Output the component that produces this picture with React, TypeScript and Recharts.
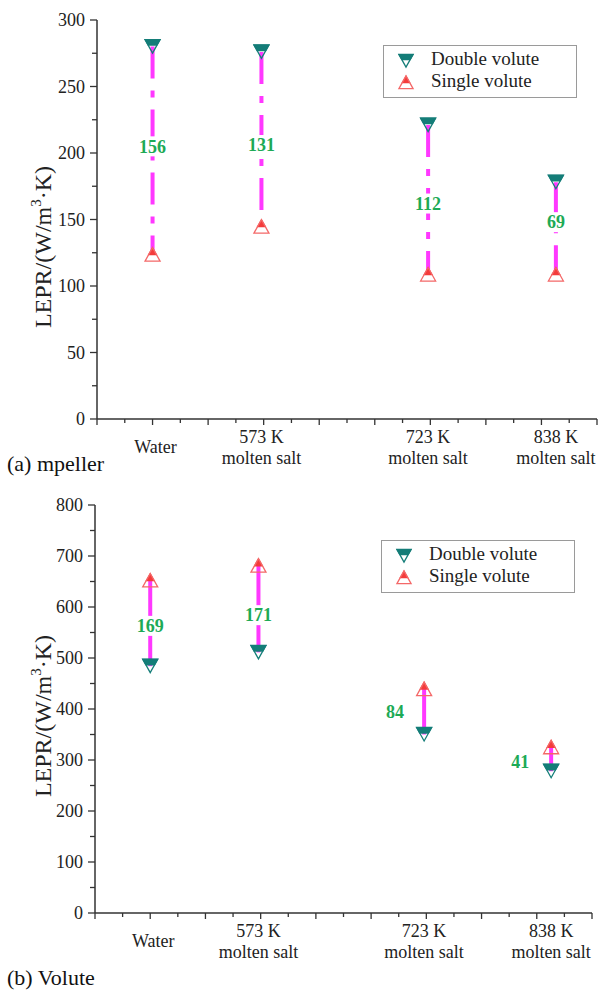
import { ScatterChart, Scatter, XAxis, YAxis, Legend } from "recharts"

// categories on a temperature-like x axis
const categories = ["Water", "573 K", "723 K", "838 K"]
const categorySub = ["", "molten salt", "molten salt", "molten salt"]
const categoryX = [475, 573, 723, 838]
const xTicks = [425, 450, 500, 525, 550, 575, 600, 625, 650, 675, 700, 725, 750, 775, 800, 825, 850, 875]

// (a) impeller
const impellerDouble = [280, 276, 221, 178]
const impellerSingle = [124, 145, 109, 109]
const impellerDiff = [156, 131, 112, 69]
const impellerLabelY = [205, 206, 162, 148]
const impellerYTicks = [0, 25, 50, 75, 100, 125, 150, 175, 200, 225, 250, 275, 300]

// (b) volute
const voluteDouble = [484, 511, 350, 278]
const voluteSingle = [653, 682, 440, 326]
const voluteDiff = [169, 171, 84, 41]
const voluteLabelY = [563, 584, 394, 296]
const voluteYTicks = [0, 50, 100, 150, 200, 250, 300, 350, 400, 450, 500, 550, 600, 650, 700, 750, 800]

const FONT = "'Times New Roman', 'Liberation Serif', Times, serif"
const AXIS = "#333333"
const TEXT = "#222222"
const TEAL = "#147d78"
const RED = "#f43b3b"
const RED_LINE = "#f46868"
const MAGENTA = "#ff38ff"
const GREEN = "#1daa56"

const W = 17
const H = 15

function DownTri({ cx, cy, k = 1 }: any) {
  const w = W * k
  const h = H * k
  const f = 0.45
  const top = cy - h / 2
  const fillY = top + f * h
  const inner = (w / 2) * (1 - f)
  return (
    <g>
      <polygon
        points={`${cx - w / 2},${top} ${cx + w / 2},${top} ${cx + inner},${fillY} ${cx - inner},${fillY}`}
        fill={TEAL}
      />
      <polygon
        points={`${cx - w / 2 + 1},${top + 0.5} ${cx + w / 2 - 1},${top + 0.5} ${cx},${cy + h / 2 - 1}`}
        fill="none"
        stroke={TEAL}
        strokeWidth={1.3}
      />
    </g>
  )
}

function UpTri({ cx, cy, k = 1 }: any) {
  const w = W * k
  const h = H * k
  const f = 0.58
  const top = cy - h / 2
  const fillY = top + f * h
  const half = (w / 2) * f
  return (
    <g>
      <polygon points={`${cx},${top} ${cx + half},${fillY} ${cx - half},${fillY}`} fill={RED} />
      <polygon
        points={`${cx},${top + 1} ${cx + w / 2 - 1},${cy + h / 2 - 0.5} ${cx - w / 2 + 1},${cy + h / 2 - 0.5}`}
        fill="none"
        stroke={RED_LINE}
        strokeWidth={1.3}
      />
    </g>
  )
}

function XTick({ x, y, payload }: any) {
  const v = payload.value
  const idx = categoryX.indexOf(v)
  const major = (v - 475) % 50 === 0
  const mark = <line x1={x} x2={x} y1={y} y2={y + (major ? 6 : 4)} stroke={AXIS} strokeWidth={1.3} />
  if (idx < 0) return mark
  if (categorySub[idx] === "") {
    return (
      <g>
        {major && mark}
        <text x={x + 3} y={y + 34} textAnchor="middle" fontFamily={FONT} fontSize={18} fill={TEXT}>
          {categories[idx]}
        </text>
      </g>
    )
  }
  return (
    <text textAnchor="middle" fontFamily={FONT} fontSize={18} fill={TEXT}>
      <tspan x={x} y={y + 24}>{categories[idx]}</tspan>
      <tspan x={x} y={y + 45}>{categorySub[idx]}</tspan>
    </text>
  )
}

function makeYTick(step: number) {
  return function YTick({ x, y, payload }: any) {
    const v = payload.value
    const major = v % step === 0
    return (
      <g>
        <line x1={x} x2={x - (major ? 7 : 5)} y1={y} y2={y} stroke={AXIS} strokeWidth={1.3} />
        {major && (
          <text x={x - 12} y={y} dy="0.35em" textAnchor="end" fontFamily={FONT} fontSize={18} fill={TEXT}>
            {v}
          </text>
        )}
      </g>
    )
  }
}

function yTitle(cx: number, cy: number) {
  return () => (
    <text
      x={cx}
      y={cy}
      transform={`rotate(-90, ${cx}, ${cy})`}
      textAnchor="middle"
      dy="0.35em"
      fontFamily={FONT}
      fontSize={24}
      fill={TEXT}
    >
      LEPR/(W/m
      <tspan dy={-10} fontSize={15}>3</tspan>
      <tspan dy={10}>·K)</tspan>
    </text>
  )
}

function LegendBox() {
  return (
    <div
      style={{
        border: "1px solid #9a9a9a",
        width: 194,
        height: 53,
        boxSizing: "border-box",
        background: "#fff",
        fontFamily: FONT,
        fontSize: 19,
        color: TEXT,
        position: "relative",
      }}
    >
      <svg width={40} height={52} style={{ position: "absolute", left: 0, top: 0 }}>
        <DownTri cx={22} cy={15} k={0.95} />
        <UpTri cx={22} cy={36} k={0.95} />
      </svg>
      <div style={{ position: "absolute", left: 47, top: 2, lineHeight: "22px", whiteSpace: "nowrap" }}>
        Double volute
        <br />
        Single volute
      </div>
    </div>
  )
}

function DiffLabel({ cx, cy, payload }: any) {
  const dx = payload.dx
  const str = String(payload.d)
  const w = str.length * 9 + 6
  return (
    <g>
      {dx === 0 && <rect x={cx - w / 2} y={cy - 10} width={w} height={20} fill="#fff" />}
      <text
        x={cx + dx}
        y={cy}
        dy="0.35em"
        textAnchor="middle"
        fontFamily={FONT}
        fontWeight="bold"
        fontSize={18}
        fill={GREEN}
      >
        {str}
      </text>
    </g>
  )
}

function Panel({
  double,
  single,
  diff,
  labelY,
  labelDx,
  yTicks,
  yMax,
  step,
  yAxisWidth,
  right,
  height,
  dash,
  titleY,
  legendTop,
  legendLeft,
}: any) {
  const spans = categoryX.map((x, i) => [
    { x, y: double[i] },
    { x, y: single[i] },
  ])
  const labels = categoryX.map((x, i) => ({ x, y: labelY[i], d: diff[i], dx: labelDx[i] }))
  const doubleData = categoryX.map((x, i) => ({ x, y: double[i] }))
  const singleData = categoryX.map((x, i) => ({ x, y: single[i] }))
  return (
    <ScatterChart width={607} height={height} margin={{ top: 20, right, bottom: 0, left: 0 }}>
      <XAxis
        type="number"
        dataKey="x"
        domain={[425, 875]}
        ticks={[...xTicks, ...categoryX].sort((a, b) => a - b)}
        interval={0}
        tickLine={false}
        tickSize={0}
        tickMargin={0}
        tick={<XTick />}
        height={50}
        axisLine={{ stroke: AXIS, strokeWidth: 1.5 }}
        allowDataOverflow
      />
      <YAxis
        type="number"
        dataKey="y"
        domain={[0, yMax]}
        ticks={yTicks}
        interval={0}
        tickLine={false}
        tickSize={0}
        tickMargin={0}
        tick={makeYTick(step)}
        width={yAxisWidth}
        axisLine={{ stroke: AXIS, strokeWidth: 1.5 }}
        label={yTitle(43, titleY)}
        allowDataOverflow
      />
      <Legend
        layout="vertical"
        align="center"
        verticalAlign="middle"
        wrapperStyle={{ top: legendTop, left: legendLeft, width: 194 }}
        content={() => <LegendBox />}
      />
      {spans.map((s, i) => (
        <Scatter
          key={"span" + i}
          data={s}
          line={{ stroke: MAGENTA, strokeWidth: 4, strokeDasharray: dash }}
          shape={() => <g />}
          isAnimationActive={false}
          legendType="none"
        />
      ))}
      <Scatter data={labels} shape={<DiffLabel />} isAnimationActive={false} legendType="none" />
      <Scatter name="Double volute" data={doubleData} shape={<DownTri />} isAnimationActive={false} />
      <Scatter name="Single volute" data={singleData} shape={<UpTri />} isAnimationActive={false} />
    </ScatterChart>
  )
}

export default function App() {
  return (
    <div style={{ position: "absolute", left: 0, top: 0, width: 607, height: 992, background: "#fff" }}>
      <div style={{ position: "absolute", left: 0, top: 0 }}>
        <Panel
          double={impellerDouble}
          single={impellerSingle}
          diff={impellerDiff}
          labelY={impellerLabelY}
          labelDx={[0, 0, 0, 0]}
          yTicks={impellerYTicks}
          yMax={300}
          step={50}
          yAxisWidth={97}
          right={10}
          height={469}
          dash="32 12 7 12"
          titleY={247}
          legendTop={45}
          legendLeft={383}
        />
      </div>
      <div style={{ position: "absolute", left: 7, top: 451, fontFamily: FONT, fontSize: 22, color: "#111" }}>
        (a) mpeller
      </div>
      <div style={{ position: "absolute", left: 0, top: 485 }}>
        <Panel
          double={voluteDouble}
          single={voluteSingle}
          diff={voluteDiff}
          labelY={voluteLabelY}
          labelDx={[0, 0, -29, -31]}
          yTicks={voluteYTicks}
          yMax={800}
          step={100}
          yAxisWidth={95}
          right={15}
          height={478}
          dash=""
          titleY={231}
          legendTop={55}
          legendLeft={381}
        />
      </div>
      <div style={{ position: "absolute", left: 7, top: 965, fontFamily: FONT, fontSize: 22, color: "#111" }}>
        (b) Volute
      </div>
    </div>
  )
}
